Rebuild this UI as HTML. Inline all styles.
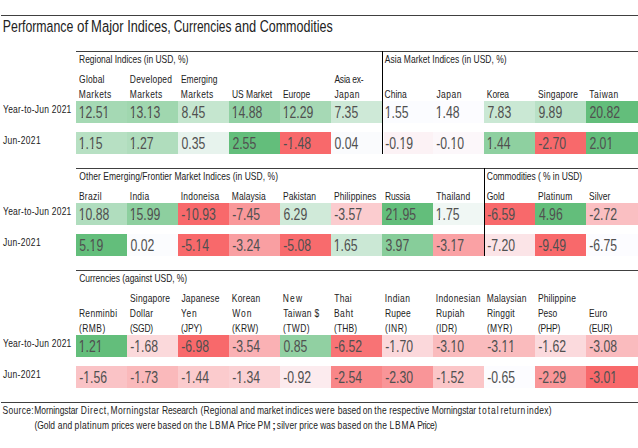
<!DOCTYPE html>
<html><head><meta charset="utf-8"><style>
html,body{margin:0;padding:0;background:#fff;}
body{width:638px;height:448px;overflow:hidden;position:relative;font-family:"Liberation Sans",sans-serif;}
span{position:absolute;white-space:nowrap;transform-origin:0 0;}
div{position:absolute;}
b.o{font-weight:normal;display:inline-block;clip-path:polygon(0 0,100% 0,100% 11.8px,6px 11.8px,6px 100%,3.95px 100%,3.95px 11.8px,0 11.8px);}
</style></head><body>
<div style="left:1px;top:15px;width:637px;height:1px;background:#404040"></div>
<div style="left:76px;top:51px;width:562px;height:1px;background:#404040"></div>
<div style="left:76px;top:168px;width:562px;height:1px;background:#404040"></div>
<div style="left:76px;top:270px;width:562px;height:1px;background:#404040"></div>
<div style="left:1px;top:402px;width:637px;height:1px;background:#404040"></div>
<span style="left:2px;top:17.77px;font-size:17.4px;line-height:17.4px;transform:scaleX(0.7078);color:#222;padding-left:1.172px;">Performance</span>
<span style="left:76px;top:17.77px;font-size:17.4px;line-height:17.4px;transform:scaleX(0.7694);color:#222;padding-left:1.282px;">of</span>
<span style="left:91px;top:17.77px;font-size:17.4px;line-height:17.4px;transform:scaleX(0.7472);color:#222;padding-left:0.116px;">Major</span>
<span style="left:127px;top:17.77px;font-size:17.4px;line-height:17.4px;transform:scaleX(0.7277);color:#222;padding-left:0.390px;">Indices,</span>
<span style="left:173px;top:17.77px;font-size:17.4px;line-height:17.4px;transform:scaleX(0.6867);color:#222;padding-left:1.060px;">Currencies</span>
<span style="left:234px;top:17.77px;font-size:17.4px;line-height:17.4px;transform:scaleX(0.7384);color:#222;padding-left:1.052px;">and</span>
<span style="left:259px;top:17.77px;font-size:17.4px;line-height:17.4px;transform:scaleX(0.7201);color:#222;padding-left:0.933px;">Commodities</span>
<span style="left:79px;top:54.19px;font-size:11px;line-height:11px;transform:scaleX(0.7700);color:#222;padding-left:0.095px;letter-spacing:-0.025px;">Regional Indices (in USD, %)</span>
<span style="left:384px;top:54.19px;font-size:11px;line-height:11px;transform:scaleX(0.7700);color:#222;padding-left:1.129px;letter-spacing:0.035px;">Asia Market Indices (in USD, %)</span>
<span style="left:79px;top:74.19px;font-size:11px;line-height:11px;transform:scaleX(0.7700);color:#222;padding-left:0.160px;letter-spacing:0.228px;">Global</span>
<span style="left:78px;top:89.19px;font-size:11px;line-height:11px;transform:scaleX(0.7700);color:#222;padding-left:1.126px;letter-spacing:0.481px;">Markets</span>
<span style="left:129px;top:74.19px;font-size:11px;line-height:11px;transform:scaleX(0.7700);color:#222;padding-left:1.126px;letter-spacing:0.252px;">Developed</span>
<span style="left:129px;top:89.19px;font-size:11px;line-height:11px;transform:scaleX(0.7700);color:#222;padding-left:1.126px;letter-spacing:0.481px;">Markets</span>
<span style="left:180px;top:74.19px;font-size:11px;line-height:11px;transform:scaleX(0.7700);color:#222;padding-left:1.163px;letter-spacing:0.065px;">Emerging</span>
<span style="left:180px;top:89.19px;font-size:11px;line-height:11px;transform:scaleX(0.7700);color:#222;padding-left:1.126px;letter-spacing:0.481px;">Markets</span>
<span style="left:231px;top:89.19px;font-size:11px;line-height:11px;transform:scaleX(0.7700);color:#222;padding-left:1.193px;letter-spacing:0.014px;">US Market</span>
<span style="left:282px;top:89.19px;font-size:11px;line-height:11px;transform:scaleX(0.7700);color:#222;padding-left:1.163px;letter-spacing:0.023px;">Europe</span>
<span style="left:334px;top:74.19px;font-size:11px;line-height:11px;transform:scaleX(0.7700);color:#222;padding-left:0.501px;letter-spacing:-0.249px;">Asia ex-</span>
<span style="left:334px;top:89.19px;font-size:11px;line-height:11px;transform:scaleX(0.7700);color:#222;padding-left:0.511px;letter-spacing:0.646px;">Japan</span>
<span style="left:384px;top:89.19px;font-size:11px;line-height:11px;transform:scaleX(0.7700);color:#222;padding-left:0.788px;letter-spacing:0.021px;">China</span>
<span style="left:436px;top:89.19px;font-size:11px;line-height:11px;transform:scaleX(0.7700);color:#222;padding-left:0.511px;letter-spacing:0.646px;">Japan</span>
<span style="left:486px;top:89.19px;font-size:11px;line-height:11px;transform:scaleX(0.7700);color:#222;padding-left:1.126px;letter-spacing:-0.141px;">Korea</span>
<span style="left:538px;top:89.19px;font-size:11px;line-height:11px;transform:scaleX(0.7700);color:#222;padding-left:0.023px;letter-spacing:0.217px;">Singapore</span>
<span style="left:589px;top:89.19px;font-size:11px;line-height:11px;transform:scaleX(0.7700);color:#222;padding-left:0.282px;letter-spacing:0.686px;">Taiwan</span>
<div style="left:76px;top:101px;width:51px;height:22px;background:#a5d9b4"></div>
<span style="left:78px;top:104.11px;font-size:17px;line-height:17px;transform:scaleX(0.7200);color:#505050;padding-left:0.949px;"><b class=o>1</b>2.5<b class=o>1</b></span>
<div style="left:127px;top:101px;width:51px;height:22px;background:#a0d7af"></div>
<span style="left:129px;top:104.11px;font-size:17px;line-height:17px;transform:scaleX(0.7200);color:#505050;padding-left:0.949px;"><b class=o>1</b>3.<b class=o>1</b>3</span>
<div style="left:178px;top:101px;width:51px;height:22px;background:#c5e6cf"></div>
<span style="left:181px;top:104.11px;font-size:17px;line-height:17px;transform:scaleX(0.7200);color:#505050;padding-left:0.678px;">8.45</span>
<div style="left:229px;top:101px;width:51px;height:22px;background:#92d1a4"></div>
<span style="left:231px;top:104.11px;font-size:17px;line-height:17px;transform:scaleX(0.7200);color:#505050;padding-left:0.949px;"><b class=o>1</b>4.88</span>
<div style="left:280px;top:101px;width:51px;height:22px;background:#a6d9b5"></div>
<span style="left:282px;top:104.11px;font-size:17px;line-height:17px;transform:scaleX(0.7200);color:#505050;padding-left:0.949px;"><b class=o>1</b>2.29</span>
<div style="left:331px;top:101px;width:51px;height:22px;background:#cee9d7"></div>
<span style="left:334px;top:104.11px;font-size:17px;line-height:17px;transform:scaleX(0.7200);color:#505050;padding-left:0.570px;">7.35</span>
<div style="left:384px;top:101px;width:49px;height:22px;background:#fbfcff"></div>
<span style="left:384px;top:104.11px;font-size:17px;line-height:17px;transform:scaleX(0.7200);color:#505050;padding-left:0.949px;"><b class=o>1</b>.55</span>
<div style="left:433px;top:101px;width:51px;height:22px;background:#fcfcff"></div>
<span style="left:435px;top:104.11px;font-size:17px;line-height:17px;transform:scaleX(0.7200);color:#505050;padding-left:0.949px;"><b class=o>1</b>.48</span>
<div style="left:484px;top:101px;width:51px;height:22px;background:#cae8d4"></div>
<span style="left:487px;top:104.11px;font-size:17px;line-height:17px;transform:scaleX(0.7200);color:#505050;padding-left:0.570px;">7.83</span>
<div style="left:535px;top:101px;width:51px;height:22px;background:#b9e1c6"></div>
<span style="left:538px;top:104.11px;font-size:17px;line-height:17px;transform:scaleX(0.7200);color:#505050;padding-left:0.547px;">9.89</span>
<div style="left:586px;top:101px;width:52px;height:22px;background:#63be7b"></div>
<span style="left:589px;top:104.11px;font-size:17px;line-height:17px;transform:scaleX(0.7200);color:#505050;padding-left:0.570px;">20.82</span>
<div style="left:76px;top:132px;width:51px;height:22px;background:#b7e0c3"></div>
<span style="left:78px;top:135.11px;font-size:17px;line-height:17px;transform:scaleX(0.7200);color:#505050;padding-left:0.949px;"><b class=o>1</b>.<b class=o>1</b>5</span>
<div style="left:127px;top:132px;width:51px;height:22px;background:#b0ddbd"></div>
<span style="left:129px;top:135.11px;font-size:17px;line-height:17px;transform:scaleX(0.7200);color:#505050;padding-left:0.949px;"><b class=o>1</b>.27</span>
<div style="left:178px;top:132px;width:51px;height:22px;background:#e7f3ed"></div>
<span style="left:181px;top:135.11px;font-size:17px;line-height:17px;transform:scaleX(0.7200);color:#505050;padding-left:0.608px;">0.35</span>
<div style="left:229px;top:132px;width:51px;height:22px;background:#63be7b"></div>
<span style="left:232px;top:135.11px;font-size:17px;line-height:17px;transform:scaleX(0.7200);color:#505050;padding-left:0.570px;">2.55</span>
<div style="left:280px;top:132px;width:51px;height:22px;background:#f8696b"></div>
<span style="left:283px;top:135.11px;font-size:17px;line-height:17px;transform:scaleX(0.7200);color:#505050;padding-left:0.199px;">-<b class=o>1</b>.48</span>
<div style="left:331px;top:132px;width:51px;height:22px;background:#fafbfd"></div>
<span style="left:334px;top:135.11px;font-size:17px;line-height:17px;transform:scaleX(0.7200);color:#505050;padding-left:0.608px;">0.04</span>
<div style="left:384px;top:132px;width:49px;height:22px;background:#fcf2f5"></div>
<span style="left:385px;top:135.11px;font-size:17px;line-height:17px;transform:scaleX(0.7200);color:#505050;padding-left:0.199px;">-0.<b class=o>1</b>9</span>
<div style="left:433px;top:132px;width:51px;height:22px;background:#fcf7fa"></div>
<span style="left:436px;top:135.11px;font-size:17px;line-height:17px;transform:scaleX(0.7200);color:#505050;padding-left:0.199px;">-0.<b class=o>1</b>0</span>
<div style="left:484px;top:132px;width:51px;height:22px;background:#8ed0a0"></div>
<span style="left:486px;top:135.11px;font-size:17px;line-height:17px;transform:scaleX(0.7200);color:#505050;padding-left:0.949px;"><b class=o>1</b>.44</span>
<div style="left:535px;top:132px;width:51px;height:22px;background:#f8696b"></div>
<span style="left:538px;top:135.11px;font-size:17px;line-height:17px;transform:scaleX(0.7200);color:#505050;padding-left:0.199px;">-2.70</span>
<div style="left:586px;top:132px;width:52px;height:22px;background:#63be7b"></div>
<span style="left:589px;top:135.11px;font-size:17px;line-height:17px;transform:scaleX(0.7200);color:#505050;padding-left:0.570px;">2.0<b class=o>1</b></span>
<span style="left:3px;top:103.99px;font-size:11px;line-height:11px;transform:scaleX(0.7700);color:#222;padding-left:0.075px;letter-spacing:0.309px;">Year-to-Jun 2021</span>
<span style="left:2px;top:134.79px;font-size:11px;line-height:11px;transform:scaleX(0.7700);color:#222;padding-left:1.195px;letter-spacing:0.440px;">Jun-2021</span>
<div style="left:382px;top:51px;width:1px;height:103px;background:#000"></div>
<span style="left:79px;top:171.19px;font-size:11px;line-height:11px;transform:scaleX(0.7700);color:#222;padding-left:0.455px;letter-spacing:0.074px;">Other Emerging/Frontier Market Indices (in USD, %)</span>
<span style="left:486px;top:171.19px;font-size:11px;line-height:11px;transform:scaleX(0.7700);color:#222;padding-left:1.086px;letter-spacing:-0.067px;">Commodities ( % in USD)</span>
<span style="left:78px;top:191.19px;font-size:11px;line-height:11px;transform:scaleX(0.7700);color:#222;padding-left:1.163px;letter-spacing:0.410px;">Brazil</span>
<span style="left:129px;top:191.19px;font-size:11px;line-height:11px;transform:scaleX(0.7700);color:#222;padding-left:1.023px;letter-spacing:0.316px;">India</span>
<span style="left:180px;top:191.19px;font-size:11px;line-height:11px;transform:scaleX(0.7700);color:#222;padding-left:1.023px;letter-spacing:0.288px;">Indoneisa</span>
<span style="left:231px;top:191.19px;font-size:11px;line-height:11px;transform:scaleX(0.7700);color:#222;padding-left:1.126px;letter-spacing:0.092px;">Malaysia</span>
<span style="left:282px;top:191.19px;font-size:11px;line-height:11px;transform:scaleX(0.7700);color:#222;padding-left:1.163px;letter-spacing:0.129px;">Pakistan</span>
<span style="left:333px;top:191.19px;font-size:11px;line-height:11px;transform:scaleX(0.7700);color:#222;padding-left:1.163px;letter-spacing:0.193px;">Philippines</span>
<span style="left:384px;top:191.19px;font-size:11px;line-height:11px;transform:scaleX(0.7700);color:#222;padding-left:1.163px;letter-spacing:-0.167px;">Russia</span>
<span style="left:436px;top:191.19px;font-size:11px;line-height:11px;transform:scaleX(0.7700);color:#222;padding-left:0.282px;letter-spacing:0.271px;">Thailand</span>
<span style="left:486px;top:191.19px;font-size:11px;line-height:11px;transform:scaleX(0.7700);color:#222;padding-left:1.043px;letter-spacing:-0.070px;">Gold</span>
<span style="left:537px;top:191.19px;font-size:11px;line-height:11px;transform:scaleX(0.7700);color:#222;padding-left:1.163px;letter-spacing:0.268px;">Platinum</span>
<span style="left:589px;top:191.19px;font-size:11px;line-height:11px;transform:scaleX(0.7700);color:#222;padding-left:0.023px;letter-spacing:0.064px;">Silver</span>
<div style="left:76px;top:203px;width:51px;height:22px;background:#b0ddbe"></div>
<span style="left:78px;top:206.11px;font-size:17px;line-height:17px;transform:scaleX(0.7200);color:#505050;padding-left:0.949px;"><b class=o>1</b>0.88</span>
<div style="left:127px;top:203px;width:51px;height:22px;background:#8dcf9f"></div>
<span style="left:129px;top:206.11px;font-size:17px;line-height:17px;transform:scaleX(0.7200);color:#505050;padding-left:0.949px;"><b class=o>1</b>5.99</span>
<div style="left:178px;top:203px;width:51px;height:22px;background:#f8696b"></div>
<span style="left:181px;top:206.11px;font-size:17px;line-height:17px;transform:scaleX(0.7200);color:#505050;padding-left:0.199px;">-<b class=o>1</b>0.93</span>
<div style="left:229px;top:203px;width:51px;height:22px;background:#f9989a"></div>
<span style="left:232px;top:206.11px;font-size:17px;line-height:17px;transform:scaleX(0.7200);color:#505050;padding-left:0.199px;">-7.45</span>
<div style="left:280px;top:203px;width:51px;height:22px;background:#d0ead9"></div>
<span style="left:283px;top:206.11px;font-size:17px;line-height:17px;transform:scaleX(0.7200);color:#505050;padding-left:0.551px;">6.29</span>
<div style="left:331px;top:203px;width:51px;height:22px;background:#fbcccf"></div>
<span style="left:334px;top:206.11px;font-size:17px;line-height:17px;transform:scaleX(0.7200);color:#505050;padding-left:0.199px;">-3.57</span>
<div style="left:382px;top:203px;width:51px;height:22px;background:#63be7b"></div>
<span style="left:385px;top:206.11px;font-size:17px;line-height:17px;transform:scaleX(0.7200);color:#505050;padding-left:0.570px;">2<b class=o>1</b>.95</span>
<div style="left:433px;top:203px;width:51px;height:22px;background:#f0f7f4"></div>
<span style="left:435px;top:206.11px;font-size:17px;line-height:17px;transform:scaleX(0.7200);color:#505050;padding-left:0.949px;"><b class=o>1</b>.75</span>
<div style="left:485px;top:203px;width:50px;height:22px;background:#f8696b"></div>
<span style="left:487px;top:206.11px;font-size:17px;line-height:17px;transform:scaleX(0.7200);color:#505050;padding-left:0.199px;">-6.59</span>
<div style="left:535px;top:203px;width:51px;height:22px;background:#63be7b"></div>
<span style="left:538px;top:206.11px;font-size:17px;line-height:17px;transform:scaleX(0.7200);color:#505050;padding-left:1.243px;">4.96</span>
<div style="left:586px;top:203px;width:52px;height:22px;background:#fabfc2"></div>
<span style="left:589px;top:206.11px;font-size:17px;line-height:17px;transform:scaleX(0.7200);color:#505050;padding-left:0.199px;">-2.72</span>
<div style="left:76px;top:234px;width:51px;height:22px;background:#63be7b"></div>
<span style="left:79px;top:237.11px;font-size:17px;line-height:17px;transform:scaleX(0.7200);color:#505050;padding-left:0.502px;">5.<b class=o>1</b>9</span>
<div style="left:127px;top:234px;width:51px;height:22px;background:#fbfcfe"></div>
<span style="left:130px;top:237.11px;font-size:17px;line-height:17px;transform:scaleX(0.7200);color:#505050;padding-left:0.608px;">0.02</span>
<div style="left:178px;top:234px;width:51px;height:22px;background:#f8696b"></div>
<span style="left:181px;top:237.11px;font-size:17px;line-height:17px;transform:scaleX(0.7200);color:#505050;padding-left:0.199px;">-5.<b class=o>1</b>4</span>
<div style="left:229px;top:234px;width:51px;height:22px;background:#f99fa2"></div>
<span style="left:232px;top:237.11px;font-size:17px;line-height:17px;transform:scaleX(0.7200);color:#505050;padding-left:0.199px;">-3.24</span>
<div style="left:280px;top:234px;width:51px;height:22px;background:#f86b6d"></div>
<span style="left:283px;top:237.11px;font-size:17px;line-height:17px;transform:scaleX(0.7200);color:#505050;padding-left:0.199px;">-5.08</span>
<div style="left:331px;top:234px;width:51px;height:22px;background:#cbe8d5"></div>
<span style="left:333px;top:237.11px;font-size:17px;line-height:17px;transform:scaleX(0.7200);color:#505050;padding-left:0.949px;"><b class=o>1</b>.65</span>
<div style="left:382px;top:234px;width:51px;height:22px;background:#87cd9a"></div>
<span style="left:385px;top:237.11px;font-size:17px;line-height:17px;transform:scaleX(0.7200);color:#505050;padding-left:0.574px;">3.97</span>
<div style="left:433px;top:234px;width:51px;height:22px;background:#faa1a4"></div>
<span style="left:436px;top:237.11px;font-size:17px;line-height:17px;transform:scaleX(0.7200);color:#505050;padding-left:0.199px;">-3.<b class=o>1</b>7</span>
<div style="left:485px;top:234px;width:50px;height:22px;background:#fbe4e7"></div>
<span style="left:487px;top:237.11px;font-size:17px;line-height:17px;transform:scaleX(0.7200);color:#505050;padding-left:0.199px;">-7.20</span>
<div style="left:535px;top:234px;width:51px;height:22px;background:#f8696b"></div>
<span style="left:538px;top:237.11px;font-size:17px;line-height:17px;transform:scaleX(0.7200);color:#505050;padding-left:0.199px;">-9.49</span>
<div style="left:586px;top:234px;width:52px;height:22px;background:#fcfcff"></div>
<span style="left:589px;top:237.11px;font-size:17px;line-height:17px;transform:scaleX(0.7200);color:#505050;padding-left:0.199px;">-6.75</span>
<span style="left:3px;top:205.99px;font-size:11px;line-height:11px;transform:scaleX(0.7700);color:#222;padding-left:0.075px;letter-spacing:0.309px;">Year-to-Jun 2021</span>
<span style="left:2px;top:237.09px;font-size:11px;line-height:11px;transform:scaleX(0.7700);color:#222;padding-left:1.195px;letter-spacing:0.440px;">Jun-2021</span>
<div style="left:484px;top:168px;width:1px;height:88px;background:#000"></div>
<span style="left:79px;top:273.19px;font-size:11px;line-height:11px;transform:scaleX(0.7700);color:#222;padding-left:0.308px;letter-spacing:-0.039px;">Currencies (against USD, %)</span>
<span style="left:78px;top:308.19px;font-size:11px;line-height:11px;transform:scaleX(0.7700);color:#222;padding-left:1.163px;letter-spacing:0.442px;">Renminbi</span>
<span style="left:78px;top:323.19px;font-size:11px;line-height:11px;transform:scaleX(0.7700);color:#222;padding-left:1.200px;letter-spacing:0.596px;">(RMB)</span>
<span style="left:130px;top:293.19px;font-size:11px;line-height:11px;transform:scaleX(0.7700);color:#222;padding-left:0.023px;letter-spacing:0.217px;">Singapore</span>
<span style="left:129px;top:308.19px;font-size:11px;line-height:11px;transform:scaleX(0.7700);color:#222;padding-left:1.126px;letter-spacing:0.265px;">Dollar</span>
<span style="left:129px;top:323.19px;font-size:11px;line-height:11px;transform:scaleX(0.7700);color:#222;padding-left:1.200px;letter-spacing:-0.232px;">(SGD)</span>
<span style="left:181px;top:293.19px;font-size:11px;line-height:11px;transform:scaleX(0.7700);color:#222;padding-left:0.511px;letter-spacing:0.259px;">Japanese</span>
<span style="left:181px;top:308.19px;font-size:11px;line-height:11px;transform:scaleX(0.7700);color:#222;padding-left:0.141px;letter-spacing:0.790px;">Yen</span>
<span style="left:180px;top:323.19px;font-size:11px;line-height:11px;transform:scaleX(0.7700);color:#222;padding-left:1.200px;letter-spacing:-0.038px;">(JPY)</span>
<span style="left:231px;top:293.19px;font-size:11px;line-height:11px;transform:scaleX(0.7700);color:#222;padding-left:1.126px;letter-spacing:0.256px;">Korean</span>
<span style="left:232px;top:308.19px;font-size:11px;line-height:11px;transform:scaleX(0.7700);color:#222;padding-left:0.449px;letter-spacing:1.151px;">Won</span>
<span style="left:231px;top:323.19px;font-size:11px;line-height:11px;transform:scaleX(0.7700);color:#222;padding-left:1.200px;letter-spacing:0.360px;">(KRW)</span>
<span style="left:282px;top:293.19px;font-size:11px;line-height:11px;transform:scaleX(0.7700);color:#222;padding-left:1.126px;letter-spacing:1.448px;">New</span>
<span style="left:283px;top:308.19px;font-size:11px;line-height:11px;transform:scaleX(0.7700);color:#222;padding-left:0.282px;letter-spacing:0.492px;">Taiwan $</span>
<span style="left:282px;top:323.19px;font-size:11px;line-height:11px;transform:scaleX(0.7700);color:#222;padding-left:1.200px;letter-spacing:0.589px;">(TWD)</span>
<span style="left:334px;top:293.19px;font-size:11px;line-height:11px;transform:scaleX(0.7700);color:#222;padding-left:0.282px;letter-spacing:0.423px;">Thai</span>
<span style="left:333px;top:308.19px;font-size:11px;line-height:11px;transform:scaleX(0.7700);color:#222;padding-left:1.163px;letter-spacing:0.733px;">Baht</span>
<span style="left:333px;top:323.19px;font-size:11px;line-height:11px;transform:scaleX(0.7700);color:#222;padding-left:1.200px;letter-spacing:0.214px;">(THB)</span>
<span style="left:384px;top:293.19px;font-size:11px;line-height:11px;transform:scaleX(0.7700);color:#222;padding-left:1.023px;letter-spacing:0.528px;">Indian</span>
<span style="left:384px;top:308.19px;font-size:11px;line-height:11px;transform:scaleX(0.7700);color:#222;padding-left:1.163px;letter-spacing:0.299px;">Rupee</span>
<span style="left:384px;top:323.19px;font-size:11px;line-height:11px;transform:scaleX(0.7700);color:#222;padding-left:1.200px;letter-spacing:0.655px;">(INR)</span>
<span style="left:435px;top:293.19px;font-size:11px;line-height:11px;transform:scaleX(0.7700);color:#222;padding-left:1.023px;letter-spacing:0.455px;">Indonesian</span>
<span style="left:435px;top:308.19px;font-size:11px;line-height:11px;transform:scaleX(0.7700);color:#222;padding-left:1.163px;letter-spacing:0.435px;">Rupiah</span>
<span style="left:435px;top:323.19px;font-size:11px;line-height:11px;transform:scaleX(0.7700);color:#222;padding-left:1.200px;letter-spacing:0.313px;">(IDR)</span>
<span style="left:486px;top:293.19px;font-size:11px;line-height:11px;transform:scaleX(0.7700);color:#222;padding-left:1.126px;letter-spacing:0.218px;">Malaysian</span>
<span style="left:486px;top:308.19px;font-size:11px;line-height:11px;transform:scaleX(0.7700);color:#222;padding-left:1.163px;letter-spacing:0.293px;">Ringgit</span>
<span style="left:486px;top:323.19px;font-size:11px;line-height:11px;transform:scaleX(0.7700);color:#222;padding-left:1.200px;letter-spacing:0.270px;">(MYR)</span>
<span style="left:537px;top:293.19px;font-size:11px;line-height:11px;transform:scaleX(0.7700);color:#222;padding-left:1.163px;letter-spacing:0.179px;">Philippine</span>
<span style="left:537px;top:308.19px;font-size:11px;line-height:11px;transform:scaleX(0.7700);color:#222;padding-left:1.163px;letter-spacing:0.009px;">Peso</span>
<span style="left:537px;top:323.19px;font-size:11px;line-height:11px;transform:scaleX(0.7700);color:#222;padding-left:1.200px;letter-spacing:-0.180px;">(PHP)</span>
<span style="left:588px;top:308.19px;font-size:11px;line-height:11px;transform:scaleX(0.7700);color:#222;padding-left:1.163px;letter-spacing:0.158px;">Euro</span>
<span style="left:588px;top:323.19px;font-size:11px;line-height:11px;transform:scaleX(0.7700);color:#222;padding-left:1.200px;letter-spacing:-0.052px;">(EUR)</span>
<div style="left:76px;top:335px;width:51px;height:22px;background:#63be7b"></div>
<span style="left:78px;top:338.11px;font-size:17px;line-height:17px;transform:scaleX(0.7200);color:#505050;padding-left:0.949px;"><b class=o>1</b>.2<b class=o>1</b></span>
<div style="left:127px;top:335px;width:51px;height:22px;background:#fbd9db"></div>
<span style="left:130px;top:338.11px;font-size:17px;line-height:17px;transform:scaleX(0.7200);color:#505050;padding-left:0.199px;">-<b class=o>1</b>.68</span>
<div style="left:178px;top:335px;width:51px;height:22px;background:#f8696b"></div>
<span style="left:181px;top:338.11px;font-size:17px;line-height:17px;transform:scaleX(0.7200);color:#505050;padding-left:0.199px;">-6.98</span>
<div style="left:229px;top:335px;width:51px;height:22px;background:#fab1b4"></div>
<span style="left:232px;top:338.11px;font-size:17px;line-height:17px;transform:scaleX(0.7200);color:#505050;padding-left:0.199px;">-3.54</span>
<div style="left:280px;top:335px;width:51px;height:22px;background:#91d0a2"></div>
<span style="left:283px;top:338.11px;font-size:17px;line-height:17px;transform:scaleX(0.7200);color:#505050;padding-left:0.608px;">0.85</span>
<div style="left:331px;top:335px;width:51px;height:22px;background:#f87375"></div>
<span style="left:334px;top:338.11px;font-size:17px;line-height:17px;transform:scaleX(0.7200);color:#505050;padding-left:0.199px;">-6.52</span>
<div style="left:382px;top:335px;width:51px;height:22px;background:#fbd8db"></div>
<span style="left:385px;top:338.11px;font-size:17px;line-height:17px;transform:scaleX(0.7200);color:#505050;padding-left:0.199px;">-<b class=o>1</b>.70</span>
<div style="left:433px;top:335px;width:51px;height:22px;background:#fabbbd"></div>
<span style="left:436px;top:338.11px;font-size:17px;line-height:17px;transform:scaleX(0.7200);color:#505050;padding-left:0.199px;">-3.<b class=o>1</b>0</span>
<div style="left:484px;top:335px;width:51px;height:22px;background:#fabbbd"></div>
<span style="left:487px;top:338.11px;font-size:17px;line-height:17px;transform:scaleX(0.7200);color:#505050;padding-left:0.199px;">-3.<b class=o>1</b><b class=o>1</b></span>
<div style="left:535px;top:335px;width:51px;height:22px;background:#fbdadd"></div>
<span style="left:538px;top:338.11px;font-size:17px;line-height:17px;transform:scaleX(0.7200);color:#505050;padding-left:0.199px;">-<b class=o>1</b>.62</span>
<div style="left:586px;top:335px;width:52px;height:22px;background:#fabbbe"></div>
<span style="left:589px;top:338.11px;font-size:17px;line-height:17px;transform:scaleX(0.7200);color:#505050;padding-left:0.199px;">-3.08</span>
<div style="left:76px;top:366px;width:51px;height:22px;background:#fac3c6"></div>
<span style="left:79px;top:369.11px;font-size:17px;line-height:17px;transform:scaleX(0.7200);color:#505050;padding-left:0.199px;">-<b class=o>1</b>.56</span>
<div style="left:127px;top:366px;width:51px;height:22px;background:#fab9bb"></div>
<span style="left:130px;top:369.11px;font-size:17px;line-height:17px;transform:scaleX(0.7200);color:#505050;padding-left:0.199px;">-<b class=o>1</b>.73</span>
<div style="left:178px;top:366px;width:51px;height:22px;background:#fbcbcd"></div>
<span style="left:181px;top:369.11px;font-size:17px;line-height:17px;transform:scaleX(0.7200);color:#505050;padding-left:0.199px;">-<b class=o>1</b>.44</span>
<div style="left:229px;top:366px;width:51px;height:22px;background:#fbd1d4"></div>
<span style="left:232px;top:369.11px;font-size:17px;line-height:17px;transform:scaleX(0.7200);color:#505050;padding-left:0.199px;">-<b class=o>1</b>.34</span>
<div style="left:280px;top:366px;width:51px;height:22px;background:#fcebee"></div>
<span style="left:283px;top:369.11px;font-size:17px;line-height:17px;transform:scaleX(0.7200);color:#505050;padding-left:0.199px;">-0.92</span>
<div style="left:331px;top:366px;width:51px;height:22px;background:#f98688"></div>
<span style="left:334px;top:369.11px;font-size:17px;line-height:17px;transform:scaleX(0.7200);color:#505050;padding-left:0.199px;">-2.54</span>
<div style="left:382px;top:366px;width:51px;height:22px;background:#f99598"></div>
<span style="left:385px;top:369.11px;font-size:17px;line-height:17px;transform:scaleX(0.7200);color:#505050;padding-left:0.199px;">-2.30</span>
<div style="left:433px;top:366px;width:51px;height:22px;background:#fbc6c8"></div>
<span style="left:436px;top:369.11px;font-size:17px;line-height:17px;transform:scaleX(0.7200);color:#505050;padding-left:0.199px;">-<b class=o>1</b>.52</span>
<div style="left:484px;top:366px;width:51px;height:22px;background:#fcfcff"></div>
<span style="left:487px;top:369.11px;font-size:17px;line-height:17px;transform:scaleX(0.7200);color:#505050;padding-left:0.199px;">-0.65</span>
<div style="left:535px;top:366px;width:51px;height:22px;background:#f99698"></div>
<span style="left:538px;top:369.11px;font-size:17px;line-height:17px;transform:scaleX(0.7200);color:#505050;padding-left:0.199px;">-2.29</span>
<div style="left:586px;top:366px;width:52px;height:22px;background:#f8696b"></div>
<span style="left:589px;top:369.11px;font-size:17px;line-height:17px;transform:scaleX(0.7200);color:#505050;padding-left:0.199px;">-3.0<b class=o>1</b></span>
<span style="left:3px;top:338.19px;font-size:11px;line-height:11px;transform:scaleX(0.7700);color:#222;padding-left:0.075px;letter-spacing:0.309px;">Year-to-Jun 2021</span>
<span style="left:2px;top:368.79px;font-size:11px;line-height:11px;transform:scaleX(0.7700);color:#222;padding-left:1.195px;letter-spacing:0.440px;">Jun-2021</span>
<span style="left:2px;top:404.99px;font-size:11px;line-height:11px;transform:scaleX(0.7700);color:#222;padding-left:0.553px;letter-spacing:0.438px;">Source:</span>
<span style="left:34px;top:404.99px;font-size:11px;line-height:11px;transform:scaleX(0.7700);color:#222;padding-left:0.449px;letter-spacing:-0.127px;">Morningstar</span>
<span style="left:80px;top:404.99px;font-size:11px;line-height:11px;transform:scaleX(0.7700);color:#222;padding-left:1.024px;letter-spacing:0.850px;">Direct,</span>
<span style="left:110px;top:404.99px;font-size:11px;line-height:11px;transform:scaleX(0.7700);color:#222;padding-left:0.750px;letter-spacing:0.501px;">Morningstar</span>
<span style="left:161px;top:404.99px;font-size:11px;line-height:11px;transform:scaleX(0.7700);color:#222;padding-left:1.163px;letter-spacing:-0.131px;">Research</span>
<span style="left:200px;top:404.99px;font-size:11px;line-height:11px;transform:scaleX(0.7700);color:#222;padding-left:0.604px;letter-spacing:0.200px;">(Regional</span>
<span style="left:239px;top:404.99px;font-size:11px;line-height:11px;transform:scaleX(0.7700);color:#222;padding-left:1.251px;letter-spacing:0.613px;">and</span>
<span style="left:256px;top:404.99px;font-size:11px;line-height:11px;transform:scaleX(0.7700);color:#222;padding-left:1.164px;letter-spacing:0.123px;">market</span>
<span style="left:285px;top:404.99px;font-size:11px;line-height:11px;transform:scaleX(0.7700);color:#222;padding-left:0.180px;letter-spacing:0.394px;">indices</span>
<span style="left:315px;top:404.99px;font-size:11px;line-height:11px;transform:scaleX(0.7700);color:#222;padding-left:0.196px;letter-spacing:0.524px;">were</span>
<span style="left:337px;top:404.99px;font-size:11px;line-height:11px;transform:scaleX(0.7700);color:#222;padding-left:0.983px;letter-spacing:0.022px;">based</span>
<span style="left:362px;top:404.99px;font-size:11px;line-height:11px;transform:scaleX(0.7700);color:#222;padding-left:0.948px;letter-spacing:0.248px;">on</span>
<span style="left:374px;top:404.99px;font-size:11px;line-height:11px;transform:scaleX(0.7700);color:#222;padding-left:0.393px;letter-spacing:0.392px;">the</span>
<span style="left:389px;top:404.99px;font-size:11px;line-height:11px;transform:scaleX(0.7700);color:#222;padding-left:0.289px;letter-spacing:0.189px;">respective</span>
<span style="left:431px;top:404.99px;font-size:11px;line-height:11px;transform:scaleX(0.7700);color:#222;padding-left:1.126px;letter-spacing:-0.056px;">Morningstar</span>
<span style="left:478px;top:404.99px;font-size:11px;line-height:11px;transform:scaleX(0.7700);color:#222;padding-left:0.704px;letter-spacing:1.341px;">total</span>
<span style="left:500px;top:404.99px;font-size:11px;line-height:11px;transform:scaleX(0.7700);color:#222;padding-left:0.628px;letter-spacing:0.700px;">return</span>
<span style="left:526px;top:404.99px;font-size:11px;line-height:11px;transform:scaleX(0.7700);color:#222;padding-left:1.126px;letter-spacing:0.441px;">index)</span>
<span style="left:34px;top:420.09px;font-size:11px;line-height:11px;transform:scaleX(0.7700);color:#222;padding-left:0.604px;letter-spacing:-0.033px;">(Gold</span>
<span style="left:57px;top:420.09px;font-size:11px;line-height:11px;transform:scaleX(0.7700);color:#222;padding-left:0.948px;letter-spacing:0.310px;">and</span>
<span style="left:74px;top:420.09px;font-size:11px;line-height:11px;transform:scaleX(0.7700);color:#222;padding-left:0.773px;letter-spacing:0.472px;">platinum</span>
<span style="left:111px;top:420.09px;font-size:11px;line-height:11px;transform:scaleX(0.7700);color:#222;padding-left:0.544px;letter-spacing:0.014px;">prices</span>
<span style="left:136px;top:420.09px;font-size:11px;line-height:11px;transform:scaleX(0.7700);color:#222;padding-left:0.260px;letter-spacing:0.380px;">were</span>
<span style="left:157px;top:420.09px;font-size:11px;line-height:11px;transform:scaleX(0.7700);color:#222;padding-left:0.773px;letter-spacing:0.168px;">based</span>
<span style="left:183px;top:420.09px;font-size:11px;line-height:11px;transform:scaleX(0.7700);color:#222;padding-left:0.139px;letter-spacing:-0.125px;">on</span>
<span style="left:194px;top:420.09px;font-size:11px;line-height:11px;transform:scaleX(0.7700);color:#222;padding-left:1.001px;letter-spacing:0.288px;">the</span>
<span style="left:209px;top:420.09px;font-size:11px;line-height:11px;transform:scaleX(0.7700);color:#222;padding-left:0.712px;letter-spacing:0.891px;">LBMA</span>
<span style="left:237px;top:420.09px;font-size:11px;line-height:11px;transform:scaleX(0.7700);color:#222;padding-left:0.294px;letter-spacing:-0.361px;">Price</span>
<span style="left:257px;top:420.09px;font-size:11px;line-height:11px;transform:scaleX(0.7700);color:#222;padding-left:0.703px;letter-spacing:0.567px;">PM</span>
<span style="left:271px;top:420.09px;font-size:11px;line-height:11px;transform:scaleX(1.4790);color:#222;padding-left:0.511px;">;</span>
<span style="left:276px;top:420.09px;font-size:11px;line-height:11px;transform:scaleX(0.7700);color:#222;padding-left:1.084px;letter-spacing:0.111px;">silver</span>
<span style="left:299px;top:420.09px;font-size:11px;line-height:11px;transform:scaleX(0.7700);color:#222;padding-left:0.326px;letter-spacing:0.078px;">price</span>
<span style="left:320px;top:420.09px;font-size:11px;line-height:11px;transform:scaleX(0.7700);color:#222;padding-left:0.196px;letter-spacing:0.089px;">was</span>
<span style="left:337px;top:420.09px;font-size:11px;line-height:11px;transform:scaleX(0.7700);color:#222;padding-left:0.773px;letter-spacing:0.168px;">based</span>
<span style="left:363px;top:420.09px;font-size:11px;line-height:11px;transform:scaleX(0.7700);color:#222;padding-left:0.139px;letter-spacing:-0.125px;">on</span>
<span style="left:374px;top:420.09px;font-size:11px;line-height:11px;transform:scaleX(0.7700);color:#222;padding-left:1.001px;letter-spacing:0.288px;">the</span>
<span style="left:389px;top:420.09px;font-size:11px;line-height:11px;transform:scaleX(0.7700);color:#222;padding-left:0.619px;letter-spacing:1.014px;">LBMA</span>
<span style="left:417px;top:420.09px;font-size:11px;line-height:11px;transform:scaleX(0.7700);color:#222;padding-left:0.294px;letter-spacing:-0.592px;">Price)</span>
</body></html>
